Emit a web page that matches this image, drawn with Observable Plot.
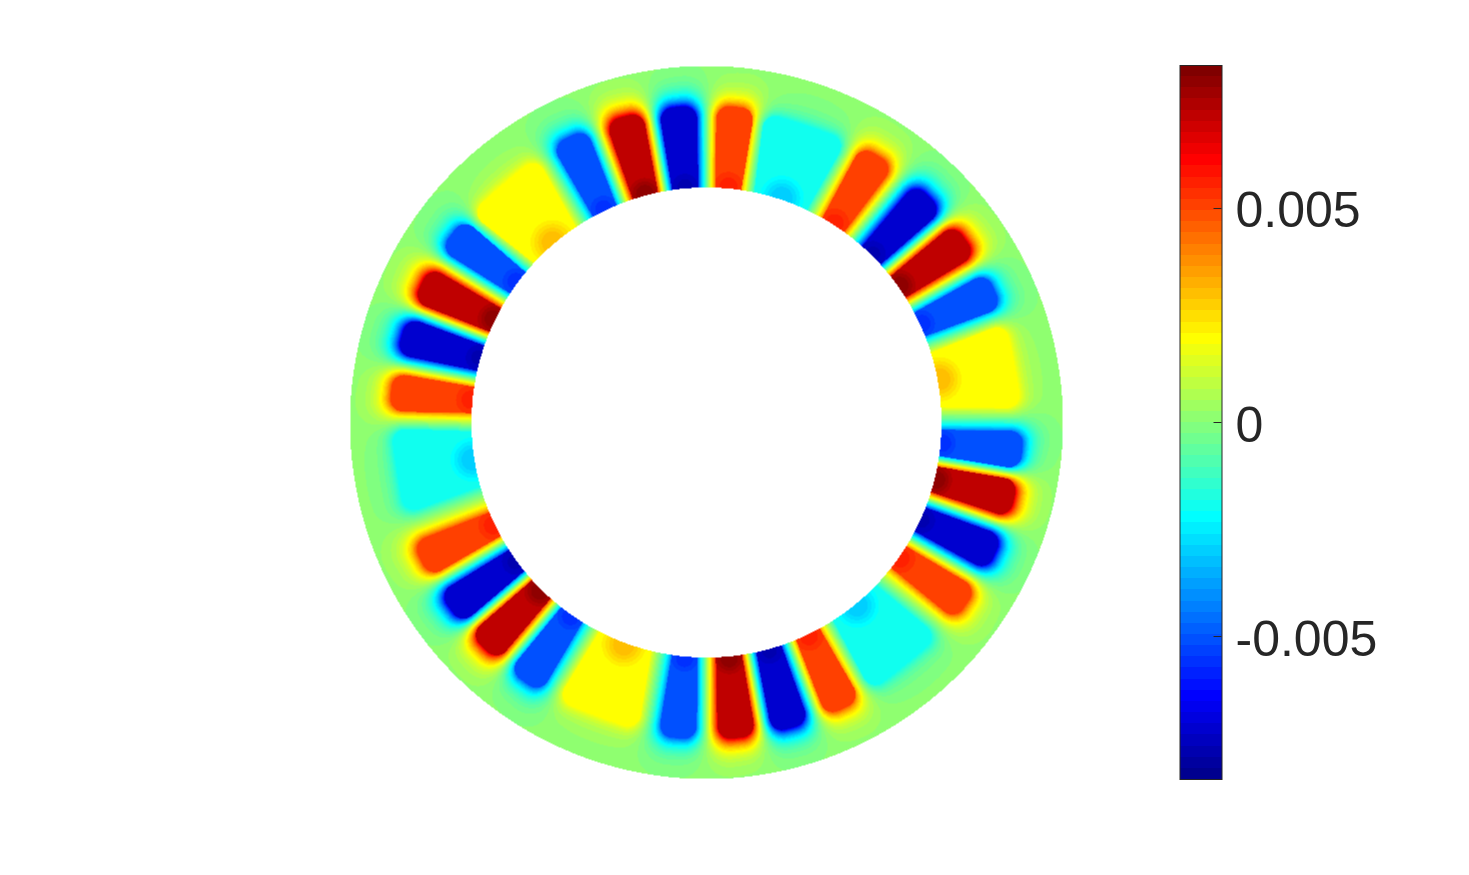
<!DOCTYPE html>
<html>
<head>
<meta charset="utf-8">
<style>
html,body{margin:0;padding:0;background:#fff;width:1469px;height:875px;overflow:hidden}
#ring,#bar{position:absolute}
#ring{left:349px;top:65px}
#bar{left:1179px;top:50px}
svg{background:transparent;display:block;overflow:visible}
</style>
<script src="https://cdn.jsdelivr.net/npm/d3@7"></script>
<script src="https://cdn.jsdelivr.net/npm/@observablehq/plot@0.6"></script>
</head>
<body>
<div id="ring"></div>
<div id="bar"></div>
<script>
const colorLimit = 0.00834;
const tickValues = [-0.005, 0, 0.005];
const innerRadius = 235;
const outerRadius = 356.5;
const backgroundValue = 0.0001;

// Clockwise from 12 o'clock, going round the ring
const slotAngle = [5.3,18.5,32.7,44.6,54.7,65.3,79.5,95,104,114.4,125,140.6,154.4,164.6,174.5,185.3,200.4,215,224.7,234,244.3,261,275.5,285.9,295.9,306.5,319.5,334.3,344.9,354.8];
const slotValue = [0.0051,-0.00195,0.0051,-0.0071,0.0072,-0.005,0.00195,-0.005,0.0072,-0.0071,0.0051,-0.00195,0.0051,-0.0071,0.0072,-0.005,0.00195,-0.005,0.0072,-0.0071,0.0051,-0.00195,0.0051,-0.0071,0.0072,-0.005,0.00195,-0.005,0.0072,-0.0071];
const slotRootValue = [0.0056,-0.003,0.0056,-0.0076,0.0080,-0.0056,0.003,-0.0056,0.0080,-0.0076,0.0056,-0.003,0.0056,-0.0076,0.0080,-0.0056,0.003,-0.0056,0.0080,-0.0076,0.0056,-0.003,0.0056,-0.0076,0.0080,-0.0056,0.003,-0.0056,0.0080,-0.0076];
const isPatch = slotValue.map(v => Math.abs(v) < 0.003);
const slotHalfOuter = isPatch.map(p => p ? 42 : 18.5);
const slotHalfInner = isPatch.map(p => p ? 29 : 13.5);
const slotTip = isPatch.map(p => p ? 313 : 317);
const slotCorner = isPatch.map(p => p ? 16 : 14);
const falloff = 11;

// MATLAB jet(64)
const jet = (() => {
  const u = [];
  for (let i = 1; i <= 16; i++) u.push(i / 16);
  for (let i = 0; i < 15; i++) u.push(1);
  for (let i = 16; i >= 1; i--) u.push(i / 16);
  const out = [];
  for (let i = 1; i <= 64; i++) {
    const at = k => (k >= 1 && k <= 47 ? u[k - 1] : 0);
    const g = i - 8, r = i - 24, b = i + 8;
    out.push(`rgb(${Math.round(at(r) * 255)},${Math.round(at(g) * 255)},${Math.round(at(b) * 255)})`);
  }
  return out;
})();
const thresholds = d3.range(1, 64).map(i => colorLimit * (2 * i / 64 - 1));
const colorOpts = {type: "threshold", domain: thresholds, range: jet};

const rad = slotAngle.map(a => a * Math.PI / 180);
const ax = rad.map(Math.sin), ay = rad.map(Math.cos);

function field(x, y) {
  const r = Math.hypot(x, y);
  if (r < innerRadius || r > outerRadius) return NaN;
  let sum = backgroundValue, shield = 1;
  for (let i = 0; i < rad.length; i++) {
    const u = x * ax[i] + y * ay[i];
    const v = Math.abs(x * ay[i] - y * ax[i]);
    if (u < 100) continue;
    const c = slotCorner[i];
    const hw = slotHalfInner[i] + (slotHalfOuter[i] - slotHalfInner[i]) * (u - 239) / 66;
    const px = v - hw + c, py = u - slotTip[i] + c;
    const d = Math.hypot(Math.max(px, 0), Math.max(py, 0)) + Math.min(Math.max(px, py), 0) - c;
    if (d <= 0) {
      const dr = Math.hypot(u - innerRadius - 2, v);
      const k = Math.max(0, 1 - dr / (isPatch[i] ? 24 : 17));
      return slotValue[i] + (slotRootValue[i] - slotValue[i]) * Math.min(1, k * 1.6);
    }
    const g = Math.exp(-d / falloff);
    const w = g / (1 - g);
    sum += w * slotValue[i];
    shield *= 1 - g;
  }
  return sum * shield;
}

const ring = Plot.plot({
  width: 714, height: 714,
  margin: 0,
  x: {domain: [-357, 357], axis: null},
  y: {domain: [-357, 357], axis: null},
  color: colorOpts,
  marks: [
    Plot.raster({fill: field, x1: -357, x2: 357, y1: -357, y2: 357, pixelSize: 1})
  ]
});
document.getElementById("ring").appendChild(ring);

const levels = d3.range(64).map(i => ({
  lo: colorLimit * (2 * i / 64 - 1),
  hi: colorLimit * (2 * (i + 1) / 64 - 1)
}));

const bar = Plot.plot({
  width: 290, height: 744,
  marginTop: 15, marginBottom: 15, marginLeft: 0.5, marginRight: 247.5,
  x: {domain: [0, 1], axis: null},
  y: {domain: [-colorLimit, colorLimit], axis: null},
  color: colorOpts,
  marks: [
    Plot.rect(levels, {x1: 0, x2: 1, y1: "lo", y2: "hi", fill: d => (d.lo + d.hi) / 2, shapeRendering: "crispEdges"}),
    Plot.ruleY(tickValues, {x1: 0.81, x2: 1, stroke: "#262626", strokeWidth: 1}),
    Plot.frame({stroke: "#262626", strokeWidth: 1}),
    Plot.axisY({anchor: "right", ticks: tickValues, tickSize: 0, tickPadding: 13.5, dy: 3, tickFormat: d => String(d),
      fontSize: 50, fontFamily: "Liberation Sans", fill: "#262626", label: null})
  ]
});
document.getElementById("bar").appendChild(bar);
</script>
</body>
</html>
